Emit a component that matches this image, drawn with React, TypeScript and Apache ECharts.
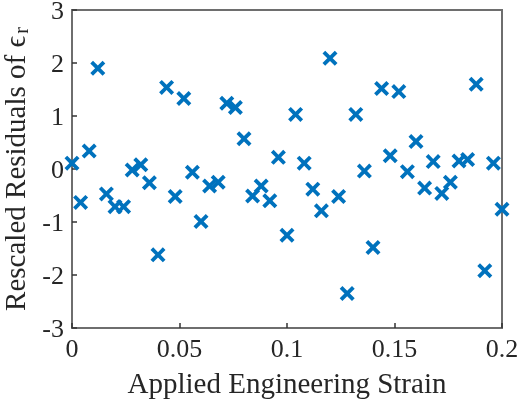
import React, { useEffect, useRef } from "react";
import * as echarts from "echarts";

const strainValues = [
  0.0, 0.004, 0.008, 0.012, 0.016, 0.02, 0.024, 0.028, 0.032, 0.036,
  0.04, 0.044, 0.048, 0.052, 0.056, 0.06, 0.064, 0.068, 0.072, 0.076,
  0.08, 0.084, 0.088, 0.092, 0.096, 0.1, 0.104, 0.108, 0.112, 0.116,
  0.12, 0.124, 0.128, 0.132, 0.136, 0.14, 0.144, 0.148, 0.152, 0.156,
  0.16, 0.164, 0.168, 0.172, 0.176, 0.18, 0.184, 0.188, 0.192, 0.196, 0.2,
];

const residualValues = [
  0.11, -0.63, 0.34, 1.9, -0.47, -0.71, -0.71, -0.02, 0.08, -0.26,
  -1.62, 1.54, -0.52, 1.33, -0.06, -0.99, -0.32, -0.25, 1.24, 1.16,
  0.57, -0.51, -0.32, -0.6, 0.22, -1.25, 1.03, 0.11, -0.38, -0.79,
  2.09, -0.52, -2.35, 1.03, -0.04, -1.48, 1.52, 0.25, 1.46, -0.05,
  0.52, -0.36, 0.14, -0.46, -0.25, 0.15, 0.18, 1.6, -1.92, 0.11, -0.76,
];

const xTickLabels = ["0", "0.05", "0.1", "0.15", "0.2"];
const yTickLabels = ["-3", "-2", "-1", "0", "1", "2", "3"];

const FONT = "'Liberation Serif', 'Times New Roman', serif";
const TEXT_COLOR = "#262626";
const BOX_COLOR = "#6e6e6e";
const TICK_COLOR = "#333333";
const MARK_COLOR = "#0072BD";
const X_SYMBOL =
  "path://M0,18L18,0L50,32L82,0L100,18L68,50L100,82L82,100L50,68L18,100L0,82L32,50Z";

export default function App() {
  const ref = useRef<HTMLDivElement>(null);

  useEffect(() => {
    if (!ref.current) return;
    const chart = echarts.init(ref.current, undefined, { renderer: "svg" });

    const xFmt = (v: number) => xTickLabels[Math.round(v / 0.05)] ?? "";
    const yFmt = (v: number) => yTickLabels[Math.round(v + 3)] ?? "";

    chart.setOption({
      animation: false,
      grid: {
        show: true,
        borderColor: BOX_COLOR,
        borderWidth: 2,
        left: 72,
        right: 16,
        top: 10,
        bottom: 71,
        outerBoundsMode: "none",
      },
      xAxis: [
        {
          type: "value",
          position: "bottom",
          min: 0,
          max: 0.2,
          interval: 0.05,
          axisLine: { show: true, onZero: false, lineStyle: { color: BOX_COLOR, width: 2 } },
          axisTick: { show: true, inside: true, length: 5, lineStyle: { color: TICK_COLOR, width: 1.5 } },
          splitLine: { show: false },
          name: "Applied Engineering Strain",
          nameLocation: "middle",
          nameGap: 40,
          nameTextStyle: { fontFamily: FONT, fontSize: 29, color: TEXT_COLOR },
          axisLabel: {
            show: true,
            margin: 8,
            fontFamily: FONT,
            fontSize: 26,
            lineHeight: 24,
            color: TEXT_COLOR,
            formatter: xFmt,
          },
        },
      ],
      yAxis: [
        {
          type: "value",
          position: "left",
          min: -3,
          max: 3,
          interval: 1,
          axisLine: { show: true, onZero: false, lineStyle: { color: BOX_COLOR, width: 2 } },
          axisTick: { show: true, inside: true, length: 5, lineStyle: { color: TICK_COLOR, width: 1.5 } },
          splitLine: { show: false },
          name: "{a|Rescaled Residuals of ϵ}{s|r}",
          nameLocation: "middle",
          nameGap: 37,
          nameRotate: 90,
          nameTextStyle: {
            rich: {
              a: { fontFamily: FONT, fontSize: 29, color: TEXT_COLOR, lineHeight: 29 },
              s: {
                fontFamily: FONT,
                fontSize: 20,
                color: TEXT_COLOR,
                verticalAlign: "bottom",
                padding: [12, 0, 0, 2],
              },
            },
          },
          axisLabel: {
            show: true,
            margin: 8,
            fontFamily: FONT,
            fontSize: 26,
            lineHeight: 20,
            color: TEXT_COLOR,
            formatter: yFmt,
          },
        },
      ],
      series: [
        {
          type: "scatter",
          symbol: X_SYMBOL,
          symbolSize: 15,
          itemStyle: { color: MARK_COLOR, opacity: 1 },
          data: strainValues.map((x, i) => [x, residualValues[i]]),
        },
      ],
    });

    return () => chart.dispose();
  }, []);

  return (
    <div
      ref={ref}
      style={{ position: "fixed", left: 0, top: 0, width: 518, height: 399 }}
    />
  );
}
